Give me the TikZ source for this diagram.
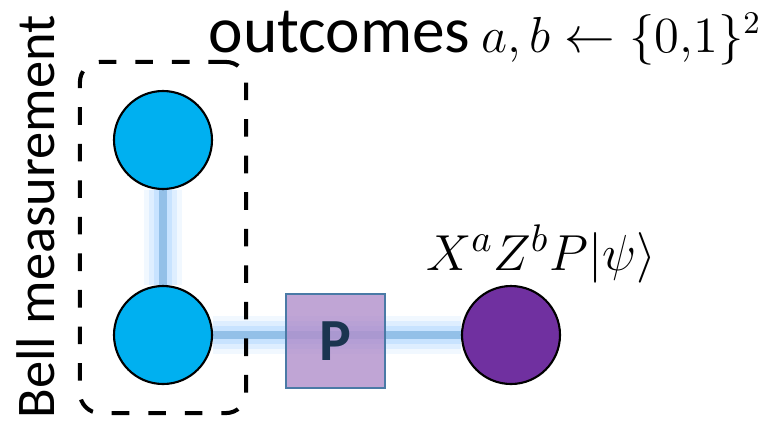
\documentclass[tikz,border=0pt]{standalone}
\usepackage{fontspec}
\setmainfont{Carlito}
\usetikzlibrary{fit,backgrounds}
\definecolor{qubitblue}{HTML}{00B0F0}
\definecolor{qubitpurple}{HTML}{7030A0}
\definecolor{gatepurple}{HTML}{B08ECB}
\definecolor{gateedge}{HTML}{4A7AA6}
\definecolor{linkcore}{HTML}{93C0E8}
\definecolor{linksoft}{HTML}{B9DCFF}
\definecolor{gatetext}{HTML}{1B3550}
\begin{document}
\begin{tikzpicture}[font=\fontsize{17}{20}\selectfont]
      \tikzset{qubit/.style={circle, draw, line width=0.6pt, minimum size=0.98cm, inner sep=0pt},
        link/.style={draw=linkcore, line width=2.2pt,
          preaction={draw=linksoft, line width=11pt, opacity=0.2},
          preaction={draw=linksoft, line width=8pt, opacity=0.35},
          preaction={draw=linksoft, line width=5pt, opacity=0.6}},
        gate/.style={draw=gateedge, line width=0.6pt, fill=gatepurple, fill opacity=0.8, text opacity=1,
          minimum width=0.99cm, minimum height=0.94cm, font=\fontsize{17}{20}\selectfont\bfseries, text=gatetext}}
      \useasboundingbox (0,0) rectangle (7.63,4.21);
      \node[qubit, fill=qubitblue] (top) at (1.63,2.81) {};
      \node[qubit, fill=qubitblue] (bot) at (1.63,0.86) {};
      \node[qubit, fill=qubitpurple] (out) at (5.11,0.86) {};
      \node[gate] (P) at (3.355,0.80) {P};
      \node[draw, dashed, line width=1.15pt, dash pattern=on 5pt off 5.4pt, rounded corners=0.2cm,
        inner xsep=0.33cm, inner ysep=0.28cm, fit=(top)(bot)] (bell) {};
      \node[rotate=90, font=\fontsize{15.5}{18}\selectfont] (belllabel) at (0.36,2.04) {Bell measurement};
      \node[font=\fontsize{18.6}{22}\selectfont] (outcomes) at (4.85,3.83)
        {outcomes\,{\fontsize{13.4}{17}\selectfont$a,b\leftarrow\{0{,}1\}^2$}};
      \node[font=\fontsize{15}{18}\selectfont] (state) at (5.41,1.67) {$X^aZ^bP|\psi\rangle$};
      \begin{scope}[on background layer]
        \draw[link] (top) -- (bot);
        \draw[link] (bot) -- (out);
      \end{scope}
    \end{tikzpicture}
\end{document}
